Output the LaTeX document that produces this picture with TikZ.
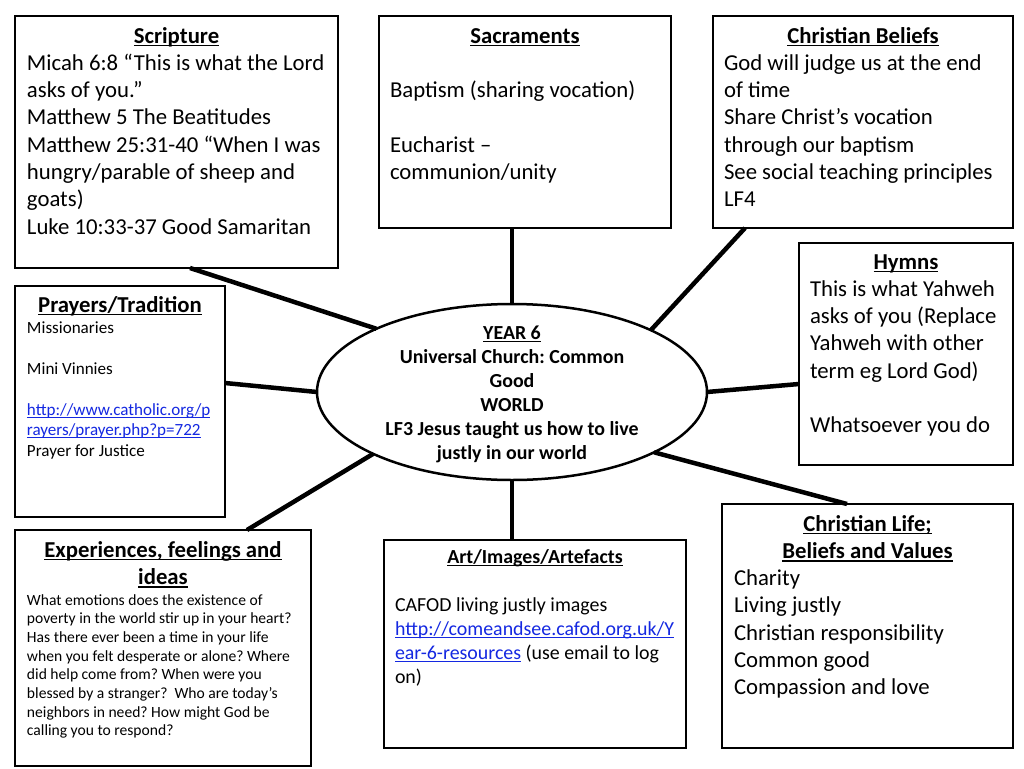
\documentclass[tikz,border=0pt]{standalone}
\usepackage{fontspec}
\setmainfont{Carlito}
\usetikzlibrary{shapes.geometric}
\definecolor{linkblue}{RGB}{20,40,225}
\frenchspacing
\newcommand\myul[1]{\leavevmode\setbox0\hbox{#1}\rlap{\vrule width \wd0 height -0.09em depth 0.15em}\box0}
\newcommand\mylink[1]{\leavevmode{\color{linkblue}\myul{#1}}}
\newcommand\tightsp{\spaceskip=0.226em\relax\xspaceskip=0.226em\relax}
\begin{document}
\begin{tikzpicture}[x=1pt,y=-1pt,
  box/.style={draw=black, line width=2.5pt, fill=white, inner sep=0pt, outer sep=0pt, anchor=north west},
  conn/.style={line width=4.5pt, draw=black},
  txt/.style={inner sep=0pt, outer sep=0pt, anchor=north west, align=left, execute at begin node=\tightsp},
  hdr/.style={inner sep=0pt, outer sep=0pt, anchor=north, align=center},
  fA/.style={font=\fontsize{22.75}{27.3}\selectfont\frenchspacing},
  fAb/.style={font=\fontsize{22.75}{27.3}\selectfont\bfseries\frenchspacing},
  fB/.style={font=\fontsize{19.9}{24}\selectfont\frenchspacing},
  fBb/.style={font=\fontsize{19.9}{24}\selectfont\bfseries\frenchspacing},
  fC/.style={font=\fontsize{17.07}{20.5}\selectfont\frenchspacing},
  fD/.style={font=\fontsize{15.6}{18.7}\selectfont\frenchspacing},
]
\useasboundingbox (0,0) rectangle (1024,768);
\fill[white] (0,0) rectangle (1024,768);

% boxes
\node[box, minimum width=323pt, minimum height=252pt] (scr) at (15,16) {};
\node[box, minimum width=292pt, minimum height=212pt] (sac) at (379,16) {};
\node[box, minimum width=300pt, minimum height=212pt] (bel) at (713,16) {};
\node[box, minimum width=214pt, minimum height=222pt] (hym) at (799,243) {};
\node[box, minimum width=210pt, minimum height=231pt] (pray) at (15,286) {};
\node[box, minimum width=296pt, minimum height=236pt] (exp) at (15,530) {};
\node[box, minimum width=302pt, minimum height=208pt] (art) at (384,540) {};
\node[box, minimum width=291pt, minimum height=244pt] (life) at (722,504) {};
\node[draw=black, line width=2.5pt, fill=white, ellipse, minimum width=390pt, minimum height=176pt, inner sep=0pt, outer sep=0pt] (ell) at (512,392) {};

% connectors
\draw[conn] ([xshift=175pt]scr.south west) -- (ell.155.6);
\draw[conn] (sac.south -| ell.north) -- (ell.north);
\draw[conn] ([xshift=32pt]bel.south west) -- (ell.24.4);
\draw[conn] ([yshift=-30pt]hym.west) -- (ell.-0.5);
\draw[conn] ([yshift=18.5pt]pray.east) -- (ell.180.5);
\draw[conn] ([xshift=232pt]exp.north west) -- (ell.204.2);
\draw[conn] (ell.south) -- (ell.south |- art.north);
\draw[conn] ([xshift=125pt]life.north west) -- (ell.-23.9);

% Scripture
\node[hdr, fAb] (scrh) at (176.5,23.9) {\strut\myul{Scripture}};
\node[txt, fA] (scrt) at (27,51.2) {\strut Micah 6:8 “This is what the Lord\\
asks of you.”\\
Matthew 5 The Beatitudes\\
Matthew 25:31-40 “When I was\\
hungry/parable of sheep and\\
goats)\\
Luke 10:33-37 Good Samaritan};

% Sacraments
\node[hdr, fAb] (sach) at (525,23.9) {\strut\myul{Sacraments}};
\node[txt, fA] (sact) at (390,78.5) {\strut Baptism (sharing vocation)\\[27.3pt]
Eucharist –\\
communion/unity};

% Christian Beliefs
\node[hdr, fAb] (belh) at (863,23.9) {\strut\myul{Christian Beliefs}};
\node[txt, fA] (belt) at (724,51.2) {\strut God will judge us at the end\\
of time\\
Share Christ’s vocation\\
through our baptism\\
See social teaching principles\\
LF4};

% Hymns
\node[hdr, fAb] (hymh) at (906,249.9) {\strut\myul{Hymns}};
\node[txt, fA] (hymt) at (810,277.2) {\strut This is what Yahweh\\
asks of you (Replace\\
Yahweh with other\\
term eg Lord God)\\[27.3pt]
Whatsoever you do};

% Prayers / Tradition
\node[hdr, fAb] (prayh) at (120,292.9) {\strut\myul{Prayers/Tradition}};
\node[txt, fC] (prayt) at (27,318.65) {\strut Missionaries\\[20.5pt]
Mini Vinnies\\[20.5pt]
\mylink{http://www.catholic.org/p}\\
\mylink{rayers/prayer.php?p=722}\\
Prayer for Justice};

% Experiences
\node[hdr, fAb] (exph) at (163,537.9) {\strut\myul{Experiences, feelings and}\\ \myul{ideas}};
\node[txt, fD] (expt) at (27,591.9) {\strut What emotions does the existence of\\
poverty in the world stir up in your heart?\\
Has there ever been a time in your life\\
when you felt desperate or alone? Where\\
did help come from? When were you\\
blessed by a stranger?\ \ Who are today’s\\
neighbors in need? How might God be\\
calling you to respond?};

% Art
\node[hdr, fBb] (arth) at (535,546.2) {\strut\myul{Art/Images/Artefacts}};
\node[txt, fB] (artt) at (395,594.2) {\strut CAFOD living justly images\\
\mylink{http://comeandsee.cafod.org.uk/Y}\\
\mylink{ear-6-resources} (use email to log\\
on)};

% Christian Life
\node[hdr, fAb] (lifeh) at (867.5,511.9) {\strut\myul{Christian Life;}\\ \myul{Beliefs and Values}};
\node[txt, fA] (lifet) at (734,566.5) {\strut Charity\\
Living justly\\
Christian responsibility\\
Common good\\
Compassion and love};

% Centre
\node[hdr, fBb] (ellt) at (512,322.2) {\strut\myul{YEAR 6}\\
Universal Church: Common\\
Good\\
WORLD\\
LF3 Jesus taught us how to live\\
justly in our world};
\end{tikzpicture}
\end{document}
